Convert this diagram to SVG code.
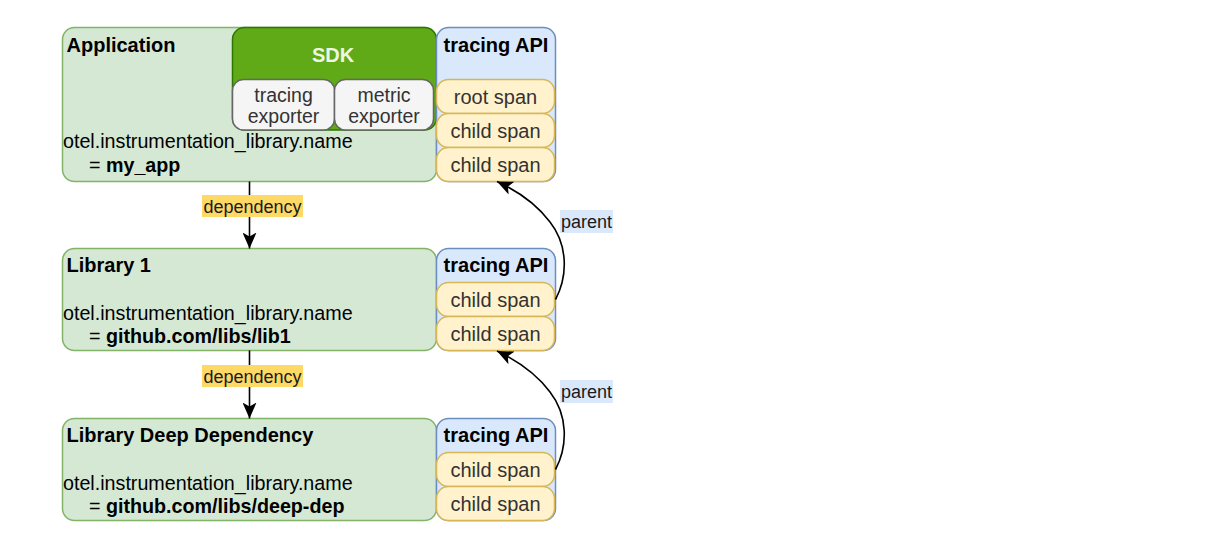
<svg xmlns="http://www.w3.org/2000/svg" width="1212" height="546" viewBox="0 0 1212 546">
  <style>
    text { font-family: "Liberation Sans", Arial, Helvetica, sans-serif; }
    .lib { fill: #d5e8d4; stroke: #82b366; stroke-width: 1.5; }
    .api { fill: #dae8fc; stroke: #6c8ebf; stroke-width: 1.5; }
    .span { fill: #fff2cc; stroke: #d6b656; stroke-width: 1.5; }
    .sdk { fill: #60a917; stroke: #2d7600; stroke-width: 1.5; }
    .exp { fill: #f5f5f5; stroke: #666666; stroke-width: 1.5; }
    .hdr { font-size: 20px; font-weight: bold; fill: #000000; }
    .body { font-size: 19.7px; fill: #000000; }
    .spt { font-size: 20px; fill: #333333; text-anchor: middle; }
    .ext { font-size: 19.5px; fill: #333333; text-anchor: middle; }
    .b { font-weight: bold; }
    .edge { fill: none; stroke: #000000; stroke-width: 1.6; }
    .lbl { font-size: 18px; fill: #1a1a1a; text-anchor: middle; }
  </style>
  <defs>
    <marker id="arrow" markerUnits="userSpaceOnUse" markerWidth="16" markerHeight="14" refX="16" refY="7" orient="auto" viewBox="0 0 16 14">
      <path d="M0,0 L16,7 L0,14 L4,7 Z" fill="#000000"/>
    </marker>
  </defs>
  <rect width="1212" height="546" fill="#ffffff"/>

  <!-- Application -->
  <g id="node-application">
    <rect class="lib" x="62.5" y="27.5" width="374" height="154" rx="12"/>
    <text class="hdr" x="66.5" y="52">Application</text>
    <text class="body" x="63" y="148">otel.instrumentation_library.name</text>
    <text class="body" x="89" y="172">= <tspan class="b">my_app</tspan></text>
  </g>
  <g id="node-sdk">
    <rect class="sdk" x="232.5" y="27.5" width="204" height="102.5" rx="12"/>
    <text x="333" y="62" font-size="20" font-weight="bold" fill="#eef6e4" text-anchor="middle">SDK</text>
  </g>
  <g id="node-tracing-exporter">
    <rect class="exp" x="232.5" y="79.5" width="102" height="50.5" rx="11"/>
    <text class="ext" x="283.5" y="101.5">tracing</text>
    <text class="ext" x="283.5" y="123">exporter</text>
  </g>
  <g id="node-metric-exporter">
    <rect class="exp" x="334.5" y="79.5" width="99" height="50.5" rx="11"/>
    <text class="ext" x="384" y="101.5">metric</text>
    <text class="ext" x="384" y="123">exporter</text>
  </g>
  <g id="node-app-tracing-api">
    <rect class="api" x="436.5" y="27.5" width="119" height="154" rx="12"/>
    <text class="hdr" x="496" y="52" text-anchor="middle">tracing API</text>
  </g>
  <g id="node-app-root-span">
    <rect class="span" x="436.5" y="79.5" width="118" height="34" rx="12"/>
    <text class="spt" x="495.5" y="103.5">root span</text>
  </g>
  <g id="node-app-child-span-1">
    <rect class="span" x="436.5" y="113.5" width="118" height="34" rx="12"/>
    <text class="spt" x="495.5" y="137.5">child span</text>
  </g>
  <g id="node-app-child-span-2">
    <rect class="span" x="436.5" y="147.5" width="118" height="34" rx="12"/>
    <text class="spt" x="495.5" y="171.5">child span</text>
  </g>

  <!-- Library 1 -->
  <g id="node-library1">
    <rect class="lib" x="62.5" y="248.5" width="374" height="102" rx="12"/>
    <text class="hdr" x="66.5" y="272">Library 1</text>
    <text class="body" x="63" y="319.5">otel.instrumentation_library.name</text>
    <text class="body" x="89" y="343">= <tspan class="b">github.com/libs/lib1</tspan></text>
  </g>
  <g id="node-lib1-tracing-api">
    <rect class="api" x="436.5" y="248.5" width="119" height="102" rx="12"/>
    <text class="hdr" x="496" y="272" text-anchor="middle">tracing API</text>
  </g>
  <g id="node-lib1-child-span-1">
    <rect class="span" x="436.5" y="282.5" width="118" height="34" rx="12"/>
    <text class="spt" x="495.5" y="306.5">child span</text>
  </g>
  <g id="node-lib1-child-span-2">
    <rect class="span" x="436.5" y="316.5" width="118" height="34" rx="12"/>
    <text class="spt" x="495.5" y="340.5">child span</text>
  </g>

  <!-- Library Deep Dependency -->
  <g id="node-deep">
    <rect class="lib" x="62.5" y="418.5" width="374" height="102" rx="12"/>
    <text class="hdr" x="66.5" y="442">Library Deep Dependency</text>
    <text class="body" x="63" y="489.5">otel.instrumentation_library.name</text>
    <text class="body" x="89" y="513">= <tspan class="b">github.com/libs/deep-dep</tspan></text>
  </g>
  <g id="node-deep-tracing-api">
    <rect class="api" x="436.5" y="418.5" width="119" height="102" rx="12"/>
    <text class="hdr" x="496" y="442" text-anchor="middle">tracing API</text>
  </g>
  <g id="node-deep-child-span-1">
    <rect class="span" x="436.5" y="452.5" width="118" height="34" rx="12"/>
    <text class="spt" x="495.5" y="476.5">child span</text>
  </g>
  <g id="node-deep-child-span-2">
    <rect class="span" x="436.5" y="486.5" width="118" height="34" rx="12"/>
    <text class="spt" x="495.5" y="510.5">child span</text>
  </g>

  <!-- Connectors -->
  <g id="connectors">
    <path class="edge" d="M249.5,181.5 L249.5,248.5" marker-end="url(#arrow)"/>
    <rect x="202" y="195" width="101" height="22" fill="#ffd966"/>
    <text class="lbl" x="252.5" y="212.5">dependency</text>

    <path class="edge" d="M249.5,350.5 L249.5,418.5" marker-end="url(#arrow)"/>
    <rect x="202" y="365" width="101" height="22" fill="#ffd966"/>
    <text class="lbl" x="252.5" y="382.5">dependency</text>

    <path class="edge" d="M555.5,299.5 C568,276 568,245 550,222 C538,206 520,192 497,181.5" marker-end="url(#arrow)"/>
    <rect x="560" y="210" width="53" height="23" fill="#dae8fc"/>
    <text class="lbl" x="586.5" y="228">parent</text>

    <path class="edge" d="M555.5,469.5 C568,446 568,415 550,392 C538,376 520,362 497,351" marker-end="url(#arrow)"/>
    <rect x="560" y="380" width="53" height="23" fill="#dae8fc"/>
    <text class="lbl" x="586.5" y="398">parent</text>
  </g>
</svg>
